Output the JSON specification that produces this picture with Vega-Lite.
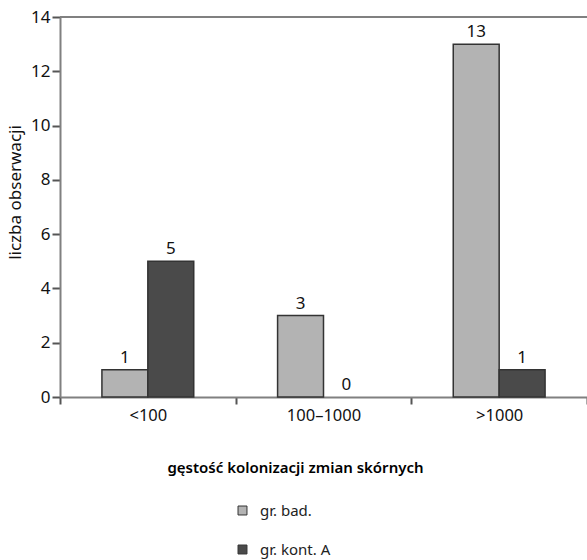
{
  "$schema": "https://vega.github.io/schema/vega-lite/v6.json",
  "width": 527,
  "height": 380,
  "autosize": "none",
  "padding": {"left": 60, "top": 17, "right": 0, "bottom": 163},
  "config": {"font": "Noto Sans", "view": {"stroke": null}},
  "data": {
    "values": [
      {"kat": "<100", "grupa": "gr. bad.", "n": 1},
      {"kat": "<100", "grupa": "gr. kont. A", "n": 5},
      {"kat": "100–1000", "grupa": "gr. bad.", "n": 3},
      {"kat": "100–1000", "grupa": "gr. kont. A", "n": 0},
      {"kat": ">1000", "grupa": "gr. bad.", "n": 13},
      {"kat": ">1000", "grupa": "gr. kont. A", "n": 1}
    ]
  },
  "layer": [
    {
      "transform": [{"filter": "datum.n > 0"}],
      "mark": {"type": "bar", "stroke": "#333333", "strokeWidth": 1.5},
      "encoding": {
        "x": {
          "field": "kat", "type": "nominal", "sort": ["<100", "100–1000", ">1000"],
          "scale": {"paddingInner": 0, "paddingOuter": 0, "domain": ["<100", "100–1000", ">1000"]},
          "axis": {
            "tickBand": "extent", "labelAngle": 0, "labelFontSize": 16.5, "labelColor": "#111",
            "labelPadding": 3, "domainColor": "#808080", "domainWidth": 2,
            "tickColor": "#555", "tickWidth": 2, "tickSize": 7,
            "title": "gęstość kolonizacji zmian skórnych", "titleFontSize": 15, "titleFontWeight": 600,
            "titleColor": "#000", "titleX": 235, "titleY": 70, "titleBaseline": "middle", "titleAlign": "center"
          }
        },
        "xOffset": {
          "field": "grupa", "type": "nominal", "sort": ["gr. bad.", "gr. kont. A"],
          "scale": {"paddingInner": 0, "paddingOuter": 0.913, "domain": ["gr. bad.", "gr. kont. A"]}
        },
        "y": {
          "field": "n", "type": "quantitative",
          "scale": {"domain": [0, 14], "nice": false},
          "axis": {
            "values": [0, 2, 4, 6, 8, 10, 12, 14], "grid": false, "labelFontSize": 17, "labelColor": "#111",
            "labelPadding": 2, "tickSize": 8, "tickColor": "#555", "tickWidth": 2,
            "domainColor": "#808080", "domainWidth": 2,
            "title": "liczba obserwacji", "titleFontSize": 17, "titleFontWeight": "normal", "titleColor": "#111",
            "titleX": -45, "titleY": 175, "titleAlign": "center", "titleBaseline": "middle"
          }
        },
        "color": {
          "field": "grupa", "type": "nominal",
          "scale": {"domain": ["gr. bad.", "gr. kont. A"], "range": ["#b3b3b3", "#4a4a4a"]},
          "legend": {
            "orient": "none", "legendX": 175, "legendY": 486, "direction": "vertical", "title": null,
            "symbolType": "square", "symbolSize": 80, "symbolStrokeColor": "#333", "symbolStrokeWidth": 1,
            "labelFontSize": 15, "labelColor": "#222", "rowPadding": 23, "labelOffset": 10, "padding": 0
          }
        }
      }
    },
    {
      "mark": {"type": "text", "baseline": "bottom", "dy": -3, "fontSize": 17, "color": "#111"},
      "encoding": {
        "x": {"field": "kat", "type": "nominal", "sort": ["<100", "100–1000", ">1000"]},
        "xOffset": {"field": "grupa", "type": "nominal", "sort": ["gr. bad.", "gr. kont. A"]},
        "y": {"field": "n", "type": "quantitative"},
        "text": {"field": "n", "type": "quantitative"}
      }
    },
    {
      "mark": {"type": "rule", "color": "#808080", "strokeWidth": 2},
      "encoding": {"y": {"datum": 14}}
    }
  ]
}
